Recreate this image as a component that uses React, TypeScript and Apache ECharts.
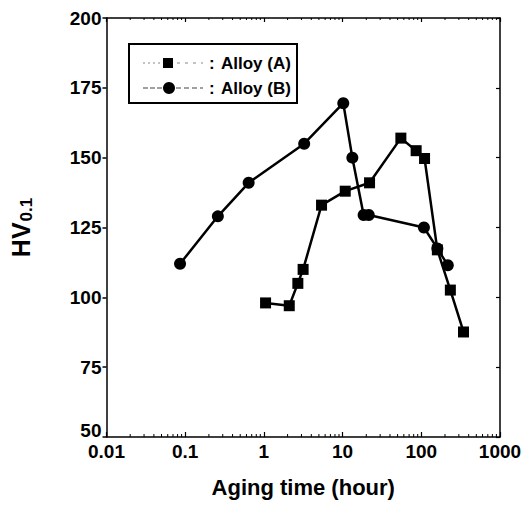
import React, { useEffect, useRef } from "react";
import * as echarts from "echarts";

// ---- data ----
const alloyATime = [1.05, 2.1, 2.7, 3.15, 5.4, 10.8, 22, 55, 86, 110, 160, 234, 344];
const alloyAHv = [98, 97, 105, 110, 133, 138, 141, 157, 152.5, 149.7, 117, 102.6, 87.6];
const alloyBTime = [0.086, 0.26, 0.64, 3.25, 10.2, 13.3, 18.5, 21.5, 108, 160, 217];
const alloyBHv = [112, 129, 141, 155, 169.5, 150, 129.5, 129.5, 125, 117.5, 111.5];

const xTickLabels = ["0.01", "0.1", "1", "10", "100", "1000"];
const yTickLabels = ["50", "75", "100", "125", "150", "175", "200"];
const decades = [0.01, 0.1, 1, 10, 100];
const minorMultipliers = [2, 3, 4, 5, 6, 7, 8, 9];

const FONT = "'Liberation Sans', Arial, Helvetica, sans-serif";

export default function App() {
  const ref = useRef<HTMLDivElement>(null);
  useEffect(() => {
    if (!ref.current) return;
    const chart = echarts.init(ref.current, null, { renderer: "svg" });
    const minorTicks: number[][] = [];
    decades.forEach((d) => minorMultipliers.forEach((m) => minorTicks.push([d * m, 50])));
    const aData = alloyATime.map((t, i) => [t, alloyAHv[i]]);
    const bData = alloyBTime.map((t, i) => [t, alloyBHv[i]]);

    const labelStyle = { color: "#000", fontFamily: FONT, fontWeight: "bold" as const, fontSize: 19 };

    chart.setOption({
      animation: false,
      backgroundColor: "#fff",
      grid: { left: 104, right: 26, top: 18, bottom: 68, containLabel: false },
      xAxis: [
        {
          type: "log",
          logBase: 10,
          min: 0.01,
          max: 1000,
          position: "bottom",
          axisLine: { lineStyle: { color: "#000", width: 1.5 } },
          axisTick: { inside: true, length: 5, lineStyle: { color: "#000", width: 1.2 } },
          splitLine: { show: false },
          axisLabel: {
            ...labelStyle,
            margin: 5,
            formatter: (v: number) => {
              const idx = Math.round(Math.log10(v)) + 2;
              return xTickLabels[idx] ?? "";
            },
          },
          name: "Aging time (hour)",
          nameLocation: "middle",
          nameGap: 50,
          nameTextStyle: { color: "#000", fontFamily: FONT, fontWeight: "bold", fontSize: 22, verticalAlign: "middle" },
        },
        {
          type: "log",
          logBase: 10,
          min: 0.01,
          max: 1000,
          position: "top",
          axisLine: { lineStyle: { color: "#000", width: 1.5 } },
          axisTick: { inside: true, length: 4, lineStyle: { color: "#000", width: 1.2 } },
          axisLabel: { show: false },
          splitLine: { show: false },
        },
      ],
      yAxis: [
        {
          type: "value",
          min: 50,
          max: 200,
          interval: 25,
          position: "left",
          axisLine: { show: true, lineStyle: { color: "#000", width: 1.5 } },
          axisTick: { show: true, inside: false, length: 4, lineStyle: { color: "#000", width: 1.5 } },
          splitLine: { show: false },
          axisLabel: {
            ...labelStyle,
            margin: 5,
            formatter: (v: number) => {
              const t = yTickLabels[Math.round((v - 50) / 25)] ?? "";
              return v === 50 ? `{low|${t}}` : t;
            },
            rich: {
              low: { ...labelStyle, lineHeight: 19, padding: [0, 0, 14, 0] },
            },
          },
          name: "{a|HV}{b|0.1}",
          nameLocation: "middle",
          nameRotate: 90,
          nameGap: 86,
          nameTextStyle: {
            verticalAlign: "middle",
            rich: {
              a: { color: "#000", fontFamily: FONT, fontWeight: "bold", fontSize: 25 },
              b: { color: "#000", fontFamily: FONT, fontWeight: "bold", fontSize: 17, padding: [12, 0, 0, 1] },
            },
          },
        },
        {
          type: "value",
          min: 50,
          max: 200,
          interval: 25,
          position: "right",
          axisLine: { show: true, lineStyle: { color: "#000", width: 1.5 } },
          axisTick: { show: true, inside: true, length: 4, lineStyle: { color: "#000", width: 1.2 } },
          axisLabel: { show: false },
          splitLine: { show: false },
        },
      ],
      series: [
        {
          name: "minor ticks",
          type: "custom",
          xAxisIndex: 0,
          yAxisIndex: 0,
          silent: true,
          clip: false,
          data: minorTicks,
          renderItem: (params: any, api: any) => {
            const x = api.value(0);
            const p = api.coord([x, 50]);
            const q = api.coord([x, 200]);
            return {
              type: "group",
              children: [
                { type: "line", shape: { x1: p[0], y1: p[1], x2: p[0], y2: p[1] - 3 }, style: { stroke: "#000", lineWidth: 1 } },
                { type: "line", shape: { x1: q[0], y1: q[1], x2: q[0], y2: q[1] + 2 }, style: { stroke: "#000", lineWidth: 1 } },
              ],
            };
          },
        },
        {
          name: "Alloy (B)",
          type: "line",
          data: bData,
          symbol: "circle",
          symbolSize: 12,
          lineStyle: { color: "#000", width: 2.5 },
          itemStyle: { color: "#000" },
        },
        {
          name: "Alloy (A)",
          type: "line",
          data: aData,
          symbol: "rect",
          symbolSize: 11,
          lineStyle: { color: "#000", width: 2.5 },
          itemStyle: { color: "#000" },
        },
      ],
      graphic: [
        {
          type: "group",
          left: 128,
          top: 43,
          children: [
            { type: "rect", shape: { x: 0, y: 0, width: 168, height: 59 }, style: { fill: "#fff", stroke: "#000", lineWidth: 2 } },
            { type: "line", shape: { x1: 14, y1: 19, x2: 34, y2: 19 }, style: { stroke: "#888", lineWidth: 1, lineDash: [2, 3] } },
            { type: "rect", shape: { x: 34, y: 14, width: 10, height: 10 }, style: { fill: "#000" } },
            { type: "line", shape: { x1: 48, y1: 19, x2: 74, y2: 19 }, style: { stroke: "#888", lineWidth: 1, lineDash: [3, 5] } },
            { type: "text", x: 80, y: 19, style: { text: ":", fill: "#000", font: `bold 17px ${FONT}`, verticalAlign: "middle" } },
            { type: "text", x: 92, y: 19, style: { text: "Alloy (A)", fill: "#000", font: `bold 17px ${FONT}`, verticalAlign: "middle" } },
            { type: "line", shape: { x1: 14, y1: 44, x2: 34, y2: 44 }, style: { stroke: "#444", lineWidth: 1.2, lineDash: [5, 2] } },
            { type: "circle", shape: { cx: 40, cy: 44, r: 6 }, style: { fill: "#000" } },
            { type: "line", shape: { x1: 47, y1: 44, x2: 74, y2: 44 }, style: { stroke: "#444", lineWidth: 1.2, lineDash: [5, 3] } },
            { type: "text", x: 80, y: 44, style: { text: ":", fill: "#000", font: `bold 17px ${FONT}`, verticalAlign: "middle" } },
            { type: "text", x: 92, y: 44, style: { text: "Alloy (B)", fill: "#000", font: `bold 17px ${FONT}`, verticalAlign: "middle" } },
          ],
        },
      ],
    });
    return () => chart.dispose();
  }, []);
  return <div ref={ref} style={{ position: "fixed", left: 0, top: 0, width: 526, height: 505, background: "#fff" }} />;
}
